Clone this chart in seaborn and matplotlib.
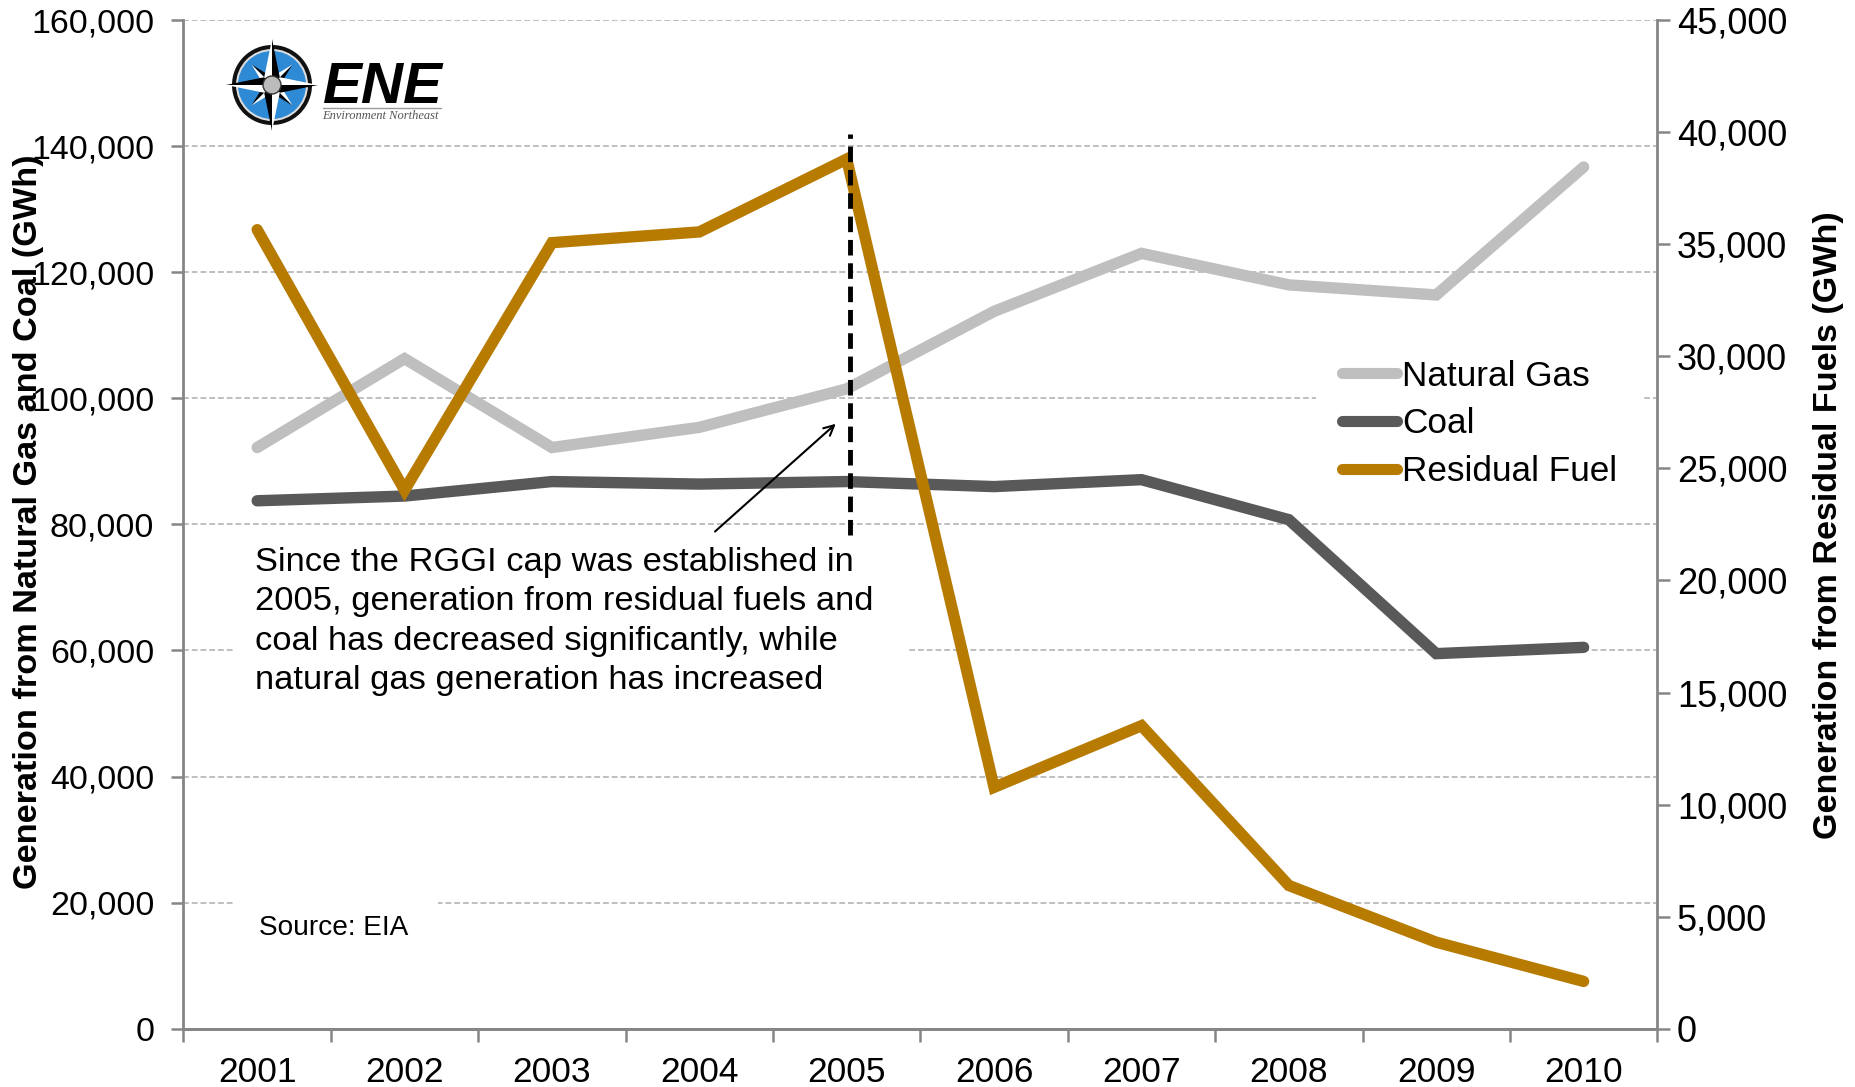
import numpy as np
import pandas as pd
import matplotlib
matplotlib.use("Agg")
import matplotlib.pyplot as plt
from matplotlib.lines import Line2D
from matplotlib.patches import Circle, Polygon, Rectangle
import seaborn as sns

years = [2001, 2002, 2003, 2004, 2005, 2006, 2007, 2008, 2009, 2010]
natural_gas = [92200, 106300, 92200, 95400, 101500, 113800, 123000, 118000, 116400, 136700]
coal = [83750, 84500, 86800, 86400, 86800, 86000, 87100, 80750, 59500, 60500]
residual_fuel = [35650, 24030, 35070, 35550, 38800, 10770, 13520, 6390, 3860, 2110]
left_ticks = [0, 20000, 40000, 60000, 80000, 100000, 120000, 140000, 160000]
right_ticks = [0, 5000, 10000, 15000, 20000, 25000, 30000, 35000, 40000, 45000]

GAS, COAL, RESID = "#bfbfbf", "#595959", "#b77b02"
SPINE, GRID = "#868686", "#bfbfbf"
W, H = 1855, 1087
S = 1855 / 1567

sns.set_style("white")
plt.rcParams["font.family"] = ["Liberation Sans", "DejaVu Sans"]
plt.rcParams["text.color"] = "black"
plt.rcParams["xtick.labelcolor"] = "black"
plt.rcParams["ytick.labelcolor"] = "black"

fig = plt.figure(figsize=(W / 100, H / 100), dpi=100, facecolor="white")
def fp(x, y):
    return (x * S / W, 1 - y * S / H)
x0, y1 = fp(155, 17)
x1, y0 = fp(1400, 869)
ax = fig.add_axes([x0, y0, x1 - x0, y1 - y0])
ax2 = ax.twinx()
ax.set_zorder(1)
ax2.set_zorder(2)
ax2.patch.set_visible(False)

df = pd.DataFrame({"year": years, "gas": natural_gas, "coal": coal, "resid": residual_fuel})
line_kw = dict(linewidth=8.2, solid_capstyle="round", solid_joinstyle="miter", errorbar=None)
sns.lineplot(data=df, x="year", y="gas", color=GAS, ax=ax, label="Natural Gas", **line_kw)
sns.lineplot(data=df, x="year", y="coal", color=COAL, ax=ax, label="Coal", **line_kw)
sns.lineplot(data=df, x="year", y="resid", color=RESID, ax=ax2, label="Residual Fuel", **line_kw)

ax.set_xlim(2000.5, 2010.5)
ax.set_ylim(0, 160000)
ax2.set_ylim(0, 45000)
ax.set_yticks(left_ticks)
ax2.set_yticks(right_ticks)
ax.set_yticklabels([f"{v:,}" for v in left_ticks])
ax2.set_yticklabels([f"{v:,}" for v in right_ticks])
ax.set_xticks(np.arange(2000.5, 2011.5, 1))
ax.set_xticklabels([])
ax.set_xticks(years, minor=True)
ax.set_xticklabels([str(y) for y in years], minor=True)
ax.tick_params(axis="x", which="major", length=9, width=1.8, color=SPINE, direction="out", bottom=True)
ax.tick_params(axis="x", which="minor", length=0, labelsize=25.5, pad=20)
ax.tick_params(axis="y", length=9, width=1.8, color=SPINE, direction="out", left=True, labelsize=24.5, pad=12)
ax2.tick_params(axis="y", length=9, width=1.8, color=SPINE, direction="out", right=True, labelsize=26, pad=5)

ax.grid(True, axis="y", color=GRID, linestyle=(0, (3, 1.5)), linewidth=1.4)
ax.grid(False, axis="x")
ax.set_axisbelow(True)
for a in (ax, ax2):
    for s in a.spines.values():
        s.set_visible(False)
    a.spines["bottom"].set_visible(True)
    a.spines["bottom"].set_color(SPINE)
    a.spines["bottom"].set_linewidth(2)
ax.spines["left"].set_visible(True)
ax.spines["left"].set_color(SPINE)
ax.spines["left"].set_linewidth(2)
ax2.spines["right"].set_visible(True)
ax2.spines["right"].set_color(SPINE)
ax2.spines["right"].set_linewidth(2)

ax.set_xlabel("")
ax.set_ylabel("")
ax2.set_xlabel("")
ax2.set_ylabel("")
fig.text(*fp(24, 441), "Generation from Natural Gas and Coal (GWh)", rotation=90, ha="center", va="center",
         fontsize=24.7, fontweight="bold", color="black")
fig.text(*fp(1545, 444), "Generation from Residual Fuels (GWh)", rotation=90, ha="center", va="center",
         fontsize=24.6, fontweight="bold", color="black")

# white boxes behind the text interrupt the gridlines
def white_box(xa, ya, xb, yb):
    (fa, fb), (fc, fd) = fp(xa, ya), fp(xb, yb)
    ax.add_patch(Rectangle((fa, fd), fc - fa, fb - fd, transform=fig.transFigure, facecolor="white",
                           edgecolor="none", zorder=1))
white_box(197, 450, 767, 600)
white_box(197, 748, 370, 800)
white_box(1112, 292, 1387, 415)

# legend
ax.get_legend().remove()
ax2.get_legend().remove()
handles = [Line2D([], [], color=c, linewidth=8, solid_capstyle="round") for c in (GAS, COAL, RESID)]
fig.legend(handles, ["Natural Gas", "Coal", "Residual Fuel"], loc="upper left", bbox_to_anchor=fp(1110, 280),
           frameon=False, fontsize=25.3, handlelength=1.55, handletextpad=0.15, labelspacing=0.42, borderpad=0.3,
           labelcolor="black").set_zorder(5)

# annotations
note = ("Since the RGGI cap was established in\n2005, generation from residual fuels and\n"
        "coal has decreased significantly, while\nnatural gas generation has increased")
ax2.text(*fp(215, 525), note, transform=fig.transFigure, ha="left", va="center", fontsize=24.8,
         linespacing=1.34, color="black", zorder=6)
ax2.text(*fp(219, 784), "Source: EIA", transform=fig.transFigure, ha="left", va="center", fontsize=20.2, color="black", zorder=6)
ax2.annotate("", xy=fp(706, 358), xytext=fp(604, 449), xycoords="figure fraction", textcoords="figure fraction",
             arrowprops=dict(arrowstyle="->", color="black", lw=1.5, shrinkA=0, shrinkB=0, mutation_scale=18), zorder=6)
(vx, vt), (_, vb) = fp(718, 113), fp(718, 452)
fig.add_artist(Line2D([vx, vx], [vb, vt], color="black", lw=3.5, linestyle=(0, (3.2, 1.6)), zorder=7))

# logo
lg = fig.add_axes([225 / W, 1 - 135 / H, 222 / W, 105 / H], zorder=8)
lg.set_xlim(225, 447)
lg.set_ylim(135, 30)
lg.axis("off")
cx, cy = 272, 85
lg.add_patch(Circle((cx, cy), 40, facecolor="#111111", edgecolor="none"))
lg.add_patch(Circle((cx, cy), 36, facecolor="#dddddd", edgecolor="none"))
lg.add_patch(Circle((cx, cy), 34, facecolor="#2f8ad6", edgecolor="none"))
def kite(angle, r, w):
    for side, col in ((1, "black"), (-1, "white")):
        a = np.deg2rad(angle)
        b = a + side * np.pi / 4
        pts = [(cx, cy), (cx + w * np.cos(b), cy + w * np.sin(b)), (cx + r * np.cos(a), cy + r * np.sin(a))]
        lg.add_patch(Polygon(pts, closed=True, facecolor=col, edgecolor="none"))
for ang in (45, 135, 225, 315):
    kite(ang, 29, 8)
for ang in (0, 90, 180, 270):
    kite(ang, 46, 11)
lg.add_patch(Circle((cx, cy), 9, facecolor="#bbbbbb", edgecolor="#333333", linewidth=1))
lg.text(323, 103, "ENE", fontsize=42, fontweight="bold", fontstyle="italic", color="black", ha="left", va="baseline")
lg.plot([323, 441], [108, 108], color="#999999", lw=1)
lg.text(322, 119, "Environment Northeast", fontsize=9, fontfamily="Liberation Serif", fontstyle="italic",
        color="#555555", ha="left", va="baseline")

fig.savefig("out.png", dpi=100, facecolor="white")
